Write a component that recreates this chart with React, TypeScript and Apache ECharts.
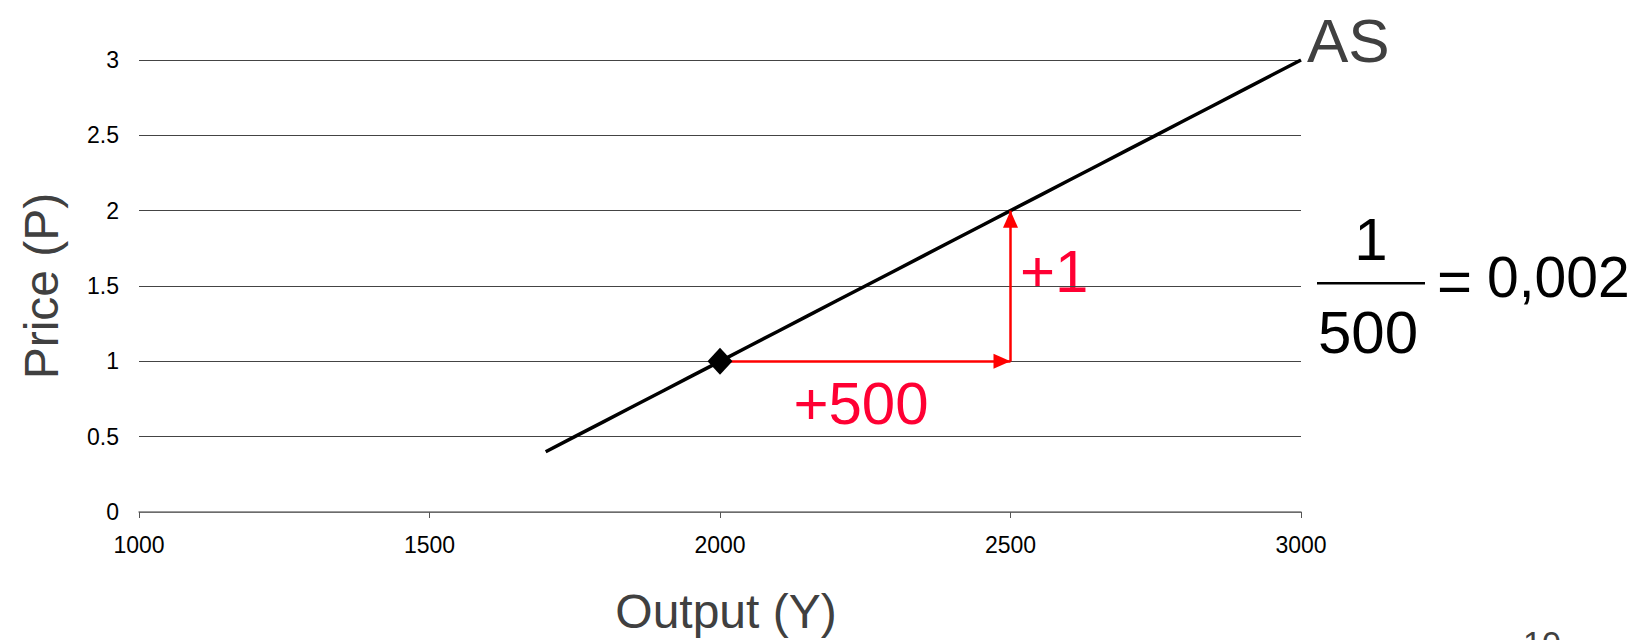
import React, { useEffect, useRef } from "react";
import * as echarts from "echarts";

// Aggregate supply (AS) curve
const outputY = [
  1700, 1750, 1800, 1850, 1900, 1950, 2000, 2050, 2100, 2150, 2200, 2250, 2300, 2350,
  2400, 2450, 2500, 2550, 2600, 2650, 2700, 2750, 2800, 2850, 2900, 2950, 3000,
];
const priceP = [
  0.4, 0.5, 0.6, 0.7, 0.8, 0.9, 1.0, 1.1, 1.2, 1.3, 1.4, 1.5, 1.6, 1.7,
  1.8, 1.9, 2.0, 2.1, 2.2, 2.3, 2.4, 2.5, 2.6, 2.7, 2.8, 2.9, 3.0,
];

// highlighted point and the change arrows
const pointStart = [2000, 1];
const pointRight = [2500, 1];
const pointTop = [2500, 2];

// axis ticks
const xTicks = [1000, 1500, 2000, 2500, 3000];
const yTicks = [0, 0.5, 1, 1.5, 2, 2.5, 3];

const FONT = "'Liberation Sans', Arial, Helvetica, sans-serif";

export default function App() {
  const ref = useRef<HTMLDivElement>(null);

  useEffect(() => {
    if (!ref.current) return;
    const chart = echarts.init(ref.current, null, { renderer: "svg" });
    const asData = outputY.map((x, i) => [x, priceP[i]]);

    chart.setOption({
      animation: false,
      backgroundColor: "#ffffff",
      grid: { left: 139, right: 337, top: 60, bottom: 128 },
      xAxis: {
        type: "value",
        min: xTicks[0],
        max: xTicks[xTicks.length - 1],
        interval: xTicks[1] - xTicks[0],
        axisLine: { show: true, lineStyle: { color: "#7a7a7a", width: 1.5 } },
        axisTick: { show: true, length: 6, lineStyle: { color: "#555", width: 1 } },
        axisLabel: {
          fontSize: 23,
          color: "#000",
          fontFamily: FONT,
          margin: 21,
          formatter: (v: number) => String(v),
        },
        splitLine: { show: false },
      },
      yAxis: {
        type: "value",
        min: yTicks[0],
        max: yTicks[yTicks.length - 1],
        interval: yTicks[1] - yTicks[0],
        axisLine: { show: false },
        axisTick: { show: false },
        axisLabel: {
          fontSize: 23,
          color: "#000",
          fontFamily: FONT,
          margin: 20,
          formatter: (v: number) => String(v),
        },
        splitLine: { show: true, lineStyle: { color: "#444", width: 1 } },
      },
      series: [
        {
          type: "line",
          data: asData,
          symbol: "none",
          lineStyle: { color: "#000", width: 3.5 },
          silent: true,
          z: 3,
        },
        {
          type: "scatter",
          data: [pointStart],
          symbol: "diamond",
          symbolSize: [25, 27],
          itemStyle: { color: "#000", opacity: 1 },
          silent: true,
          z: 5,
          markLine: {
            silent: true,
            symbol: ["none", "triangle"],
            symbolSize: [15, 17],
            symbolOffset: [[0, 0], [0, "50%"]],
            label: { show: false },
            lineStyle: { color: "#ff0000", width: 2.5, type: "solid", opacity: 1 },
            emphasis: { disabled: true },
            data: [
              [{ coord: pointStart }, { coord: pointRight }],
              [{ coord: pointRight }, { coord: pointTop }],
            ],
          },
        },
      ],
      graphic: [
        {
          type: "text",
          x: 1307,
          y: 40,
          style: { text: "AS", fontSize: 62, fontFamily: FONT, fill: "#404040", align: "left", verticalAlign: "middle" },
        },
        {
          type: "text",
          x: 726,
          y: 611,
          style: { text: "Output (Y)", fontSize: 48, fontFamily: FONT, fill: "#404040", align: "center", verticalAlign: "middle" },
        },
        {
          type: "text",
          x: 41,
          y: 286,
          rotation: Math.PI / 2,
          style: { text: "Price (P)", fontSize: 48, fontFamily: FONT, fill: "#404040", align: "center", verticalAlign: "middle" },
        },
        {
          type: "text",
          x: 861,
          y: 403,
          style: { text: "+500", fontSize: 60, fontFamily: FONT, fill: "#ff0033", align: "center", verticalAlign: "middle" },
        },
        {
          type: "text",
          x: 1020,
          y: 271,
          style: { text: "+1", fontSize: 60, fontFamily: FONT, fill: "#ff0033", align: "left", verticalAlign: "middle" },
        },
        {
          type: "text",
          x: 1371,
          y: 239,
          style: { text: "1", fontSize: 60, fontFamily: FONT, fill: "#000", align: "center", verticalAlign: "middle" },
        },
        {
          type: "rect",
          shape: { x: 1317, y: 282, width: 108, height: 2.5 },
          style: { fill: "#000" },
        },
        {
          type: "text",
          x: 1368,
          y: 332,
          style: { text: "500", fontSize: 60, fontFamily: FONT, fill: "#000", align: "center", verticalAlign: "middle" },
        },
        {
          type: "text",
          x: 1437,
          y: 281,
          style: { text: "=", fontSize: 60, fontFamily: FONT, fill: "#000", align: "left", verticalAlign: "middle" },
        },
        {
          type: "text",
          x: 1487,
          y: 277,
          style: { text: "0,002", fontSize: 57, fontFamily: FONT, fill: "#000", align: "left", verticalAlign: "middle" },
        },
        {
          type: "text",
          x: 1542,
          y: 643,
          style: { text: "10", fontSize: 34, fontFamily: FONT, fill: "#404040", align: "center", verticalAlign: "middle" },
        },
      ],
    });

    return () => chart.dispose();
  }, []);

  return (
    <div
      ref={ref}
      style={{ position: "absolute", left: 0, top: 0, width: 1638, height: 640, overflow: "hidden" }}
    />
  );
}
